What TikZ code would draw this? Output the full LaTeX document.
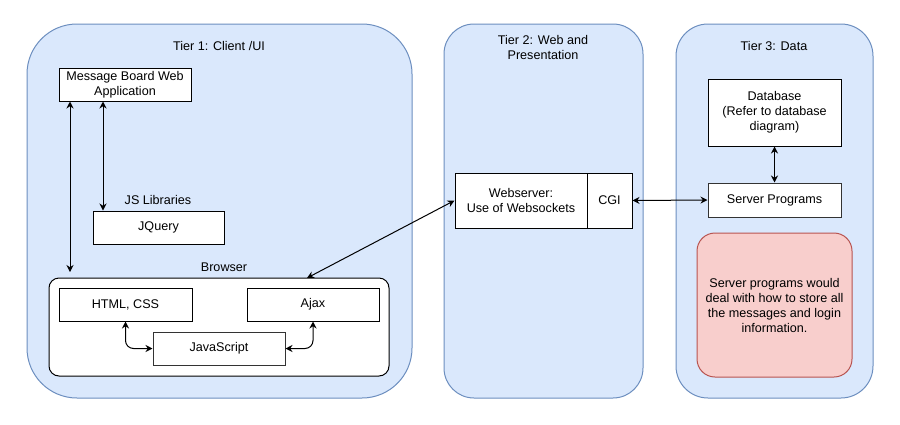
\documentclass[tikz,border=0pt]{standalone}
\usepackage{fontspec}
\setmainfont{Liberation Sans}
\usetikzlibrary{arrows.meta}
\definecolor{tierfill}{HTML}{DAE8FC}
\definecolor{tierdraw}{HTML}{6C8EBF}
\definecolor{notefill}{HTML}{F8CECC}
\definecolor{notedraw}{HTML}{B85450}
\begin{document}
\begin{tikzpicture}[x=1pt,y=-1pt,
  font=\fontsize{12.6pt}{15pt}\selectfont,
  tier/.style={draw=tierdraw, fill=tierfill, line width=1pt},
  box/.style={draw=black, fill=white, line width=1pt, rectangle, inner sep=0pt, align=center},
  lbl/.style={inner sep=0pt, align=center},
  arr/.style={line width=1pt, {Stealth[length=7pt,width=7pt]}-{Stealth[length=7pt,width=7pt]}},
]
\useasboundingbox (0,0) rectangle (900,424);
% tiers
\draw[tier, rounded corners=50pt] (27,24) rectangle (412,398);
\draw[tier, rounded corners=30pt] (444,24) rectangle (643,398);
\draw[tier, rounded corners=32pt] (676,24) rectangle (873,398);
\node[lbl] (t1) at (219,46) {Tier 1: Client /UI};
\node[lbl] (t2) at (543,47) {Tier 2: Web and\\Presentation};
\node[lbl] (t3) at (774,46) {Tier 3: Data};
% tier 1
\node[box, minimum width=132pt, minimum height=33pt] (mb) at (125,84.5) {Message Board Web\\Application};
\node[lbl] (jsl) at (158,200) {JS Libraries};
\node[box, minimum width=131pt, minimum height=33pt] (jq) at (158.5,227.5) {JQuery};
\node[lbl] (brl) at (224,267) {Browser};
\draw[line width=1pt, rounded corners=10pt, fill=white] (49,278) rectangle (389,376);
\coordinate (brtop) at (307,278);
\coordinate (bt) at (70,272);
\node[box, minimum width=133pt, minimum height=33pt] (html) at (125.5,304.5) {HTML, CSS};
\node[box, minimum width=132pt, minimum height=33pt] (ajax) at (313,304.5) {Ajax};
\node[box, draw=black!80, minimum width=132pt, minimum height=33pt] (js) at (219,348.5) {JavaScript};
% tier 2
\node[box, minimum width=132pt, minimum height=55pt] (ws) at (521,200.5) {Webserver:\\Use of Websockets};
\node[box, minimum width=45pt, minimum height=55pt] (cgi) at (609.5,200.5) {CGI};
% tier 3
\node[box, minimum width=133pt, minimum height=67pt] (db) at (774.5,112.5) {Database\\(Refer to database\\diagram)};
\node[box, draw=black!80, minimum width=133pt, minimum height=34pt] (sp) at (774.5,200) {Server Programs};
\node[draw=notedraw, fill=notefill, line width=1pt, rounded corners=18pt, minimum width=155pt, minimum height=144pt, align=center, inner sep=0pt] (note) at (774.5,305) {Server programs would\\deal with how to store all\\the messages and login\\information.};
% connectors
\draw[arr] ([xshift=-55pt]mb.south) -- (bt);
\draw[arr] ([xshift=-22pt]mb.south) -- ([xshift=-55.5pt]jq.north);
\draw[arr] (brtop) -- (ws.west);
\draw[arr, rounded corners=8pt] (html.south) |- (js.west);
\draw[arr, rounded corners=8pt] (ajax.south) |- (js.east);
\draw[arr] (cgi.east) -- (sp.west);
\draw[arr] (db.south) -- (sp.north);
\end{tikzpicture}
\end{document}
